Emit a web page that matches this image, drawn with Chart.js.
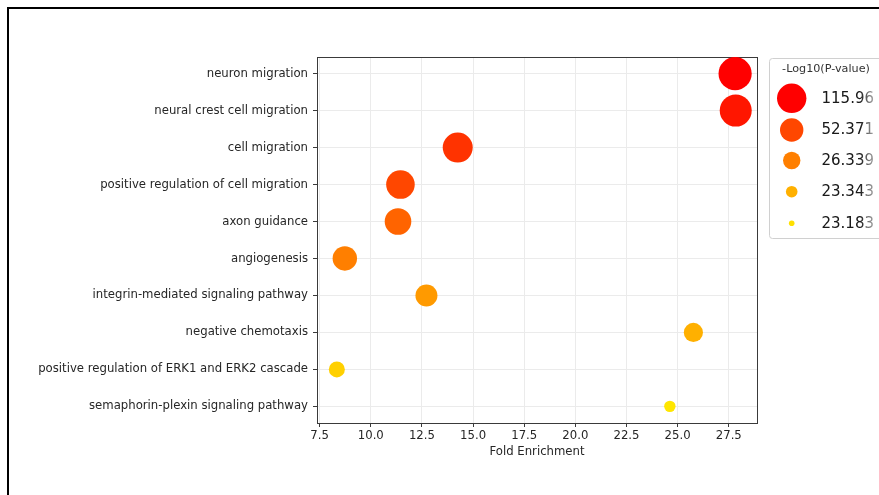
<!DOCTYPE html>
<html>
<head>
<meta charset="utf-8">
<script src="https://cdn.jsdelivr.net/npm/chart.js@4.4.1/dist/chart.umd.min.js"></script>
<style>
  html, body { margin: 0; padding: 0; background: #ffffff; }
  #wrap { position: relative; width: 879px; height: 495px; }
</style>
</head>
<body>
<div id="wrap"><canvas id="chart" width="879" height="495"></canvas></div>
<script>
// GO terms, top to bottom
const terms = [
  'neuron migration',
  'neural crest cell migration',
  'cell migration',
  'positive regulation of cell migration',
  'axon guidance',
  'angiogenesis',
  'integrin-mediated signaling pathway',
  'negative chemotaxis',
  'positive regulation of ERK1 and ERK2 cascade',
  'semaphorin-plexin signaling pathway'
];
// Fold enrichment per term
const foldEnrichment = [27.81, 27.84, 14.25, 11.45, 11.33, 8.73, 12.72, 25.77, 8.34, 24.62];
// -Log10(P-value) per term
const negLogP = [115.96, 98.4, 71.5, 52.371, 41.2, 26.339, 24.9, 23.343, 23.25, 23.183];
// x axis ticks
const xTicks = [7.5, 10.0, 12.5, 15.0, 17.5, 20.0, 22.5, 25.0, 27.5];
// size legend entries
const legendValues = [115.96, 52.371, 26.339, 23.343, 23.183];

// marker styling, ranked by significance
const markerRadius = [16.6, 16.0, 15.0, 14.3, 13.3, 12.2, 11.0, 9.6, 8.0, 5.7];
const markerColor = ['#ff0000', '#ff1600', '#ff3300', '#ff4700', '#ff6400', '#ff7f00', '#ff9a00', '#ffb000', '#ffd000', '#ffe600'];
const legendRadius = [14.7, 11.7, 8.7, 5.8, 2.8];
const legendColor = ['#ff0000', '#ff4700', '#ff7f00', '#ffb000', '#ffe000'];

const FONT = 'DejaVu Sans';
const TEXT = '#262626';
const LABEL_SIZE = 11.7;

const points = foldEnrichment.map((x, i) => ({ x: x, y: i, p: negLogP[i] }));

// outer page frame (left and top edges only)
const pageFrame = {
  id: 'pageFrame',
  beforeDraw(chart) {
    const ctx = chart.ctx;
    ctx.save();
    ctx.fillStyle = '#ffffff';
    ctx.fillRect(0, 0, chart.width, chart.height);
    ctx.fillStyle = '#000000';
    ctx.fillRect(7, 7, 2, chart.height - 7);
    ctx.fillRect(7, 7, chart.width - 7, 2);
    ctx.restore();
  }
};

// full box around the plotting area
const axesBox = {
  id: 'axesBox',
  beforeDatasetsDraw(chart) {
    const a = chart.chartArea;
    const ctx = chart.ctx;
    ctx.save();
    ctx.strokeStyle = '#3a3a3a';
    ctx.lineWidth = 1;
    ctx.strokeRect(Math.round(a.left) + 0.5, Math.round(a.top) + 0.5,
      Math.round(a.right - a.left), Math.round(a.bottom - a.top));
    ctx.restore();
  }
};

// size / colour legend on the right
const sizeLegend = {
  id: 'sizeLegend',
  afterDraw(chart) {
    const ctx = chart.ctx;
    const bx = 769.5, by = 58.5, bw = 140, bh = 180, r = 3;
    ctx.save();
    ctx.beginPath();
    ctx.moveTo(bx + r, by);
    ctx.lineTo(bx + bw - r, by);
    ctx.arcTo(bx + bw, by, bx + bw, by + r, r);
    ctx.lineTo(bx + bw, by + bh - r);
    ctx.arcTo(bx + bw, by + bh, bx + bw - r, by + bh, r);
    ctx.lineTo(bx + r, by + bh);
    ctx.arcTo(bx, by + bh, bx, by + bh - r, r);
    ctx.lineTo(bx, by + r);
    ctx.arcTo(bx, by, bx + r, by, r);
    ctx.closePath();
    ctx.fillStyle = 'rgba(255,255,255,0.9)';
    ctx.fill();
    ctx.strokeStyle = '#d0d0d0';
    ctx.lineWidth = 1;
    ctx.stroke();

    ctx.fillStyle = '#333333';
    ctx.font = '11.2px "' + FONT + '"';
    ctx.textAlign = 'center';
    ctx.textBaseline = 'middle';
    ctx.fillText('-Log10(P-value)', 826, 69.5);

    const rowsY = [98.3, 130, 160.5, 191.7, 223.3];
    const grad = ctx.createLinearGradient(860, 0, 877, 0);
    grad.addColorStop(0, '#1a1a1a');
    grad.addColorStop(1, '#cccccc');
    legendValues.forEach((v, i) => {
      ctx.beginPath();
      ctx.arc(791.7, rowsY[i], legendRadius[i], 0, Math.PI * 2);
      ctx.fillStyle = legendColor[i];
      ctx.fill();
      ctx.font = '15px "' + FONT + '"';
      ctx.textAlign = 'left';
      ctx.textBaseline = 'middle';
      ctx.fillStyle = grad;
      ctx.fillText(String(v), 821.5, rowsY[i] + 0.5);
    });
    ctx.restore();
  }
};

new Chart(document.getElementById('chart'), {
  type: 'scatter',
  data: {
    datasets: [{
      data: points,
      pointRadius: markerRadius,
      pointHoverRadius: markerRadius,
      pointBackgroundColor: markerColor,
      pointBorderWidth: 0,
      clip: false
    }]
  },
  options: {
    responsive: false,
    animation: false,
    events: [],
    layout: { padding: { left: 0, top: 57, right: 122, bottom: 0 } },
    plugins: {
      legend: { display: false },
      tooltip: { enabled: false }
    },
    scales: {
      x: {
        type: 'linear',
        min: 7.37,
        max: 28.88,
        afterBuildTicks: (s) => { s.ticks = xTicks.map(v => ({ value: v })); },
        afterFit: (s) => { s.height = 72; },
        grid: { color: '#ebebeb', lineWidth: 1, tickColor: '#3a3a3a', tickLength: 4 },
        border: { display: false },
        ticks: {
          autoSkip: false,
          maxRotation: 0,
          padding: 2,
          color: TEXT,
          font: { family: FONT, size: LABEL_SIZE },
          callback: (v) => Number(v).toFixed(1)
        },
        title: {
          display: true,
          text: 'Fold Enrichment',
          color: TEXT,
          font: { family: FONT, size: LABEL_SIZE },
          padding: { top: 0, bottom: 36 }
        }
      },
      y: {
        type: 'linear',
        reverse: true,
        min: -0.45,
        max: 9.45,
        afterBuildTicks: (s) => { s.ticks = terms.map((_, i) => ({ value: i })); },
        afterFit: (s) => { s.width = 317; },
        grid: { color: '#ebebeb', lineWidth: 1, tickColor: '#3a3a3a', tickLength: 4 },
        border: { display: false },
        ticks: {
          autoSkip: false,
          padding: 5,
          color: TEXT,
          font: { family: FONT, size: LABEL_SIZE },
          callback: (v) => terms[v]
        }
      }
    }
  },
  plugins: [pageFrame, axesBox, sizeLegend]
});
</script>
</body>
</html>
